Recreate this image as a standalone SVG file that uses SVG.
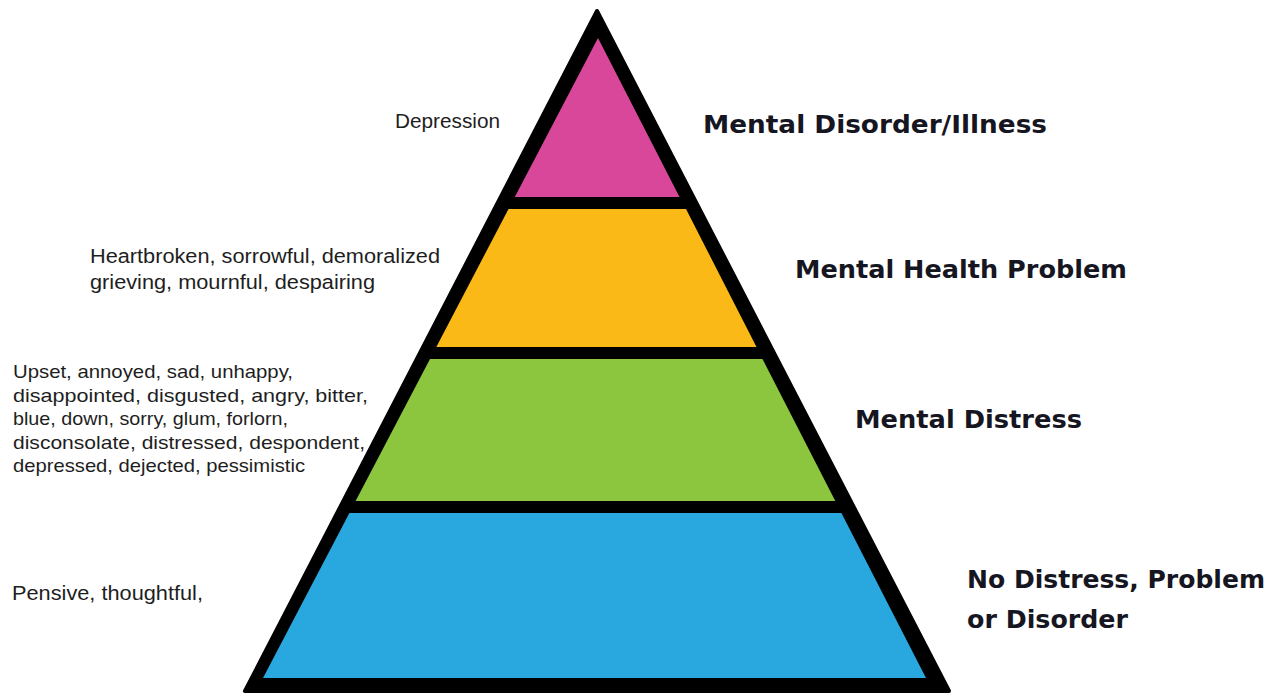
<svg xmlns="http://www.w3.org/2000/svg" width="1276" height="696" viewBox="0 0 1276 696">
  <style>
    .band { stroke: none; }
    .left { font-family: "Liberation Sans", Arial, sans-serif; font-size: 19px; fill: #1e1e1e; }
    .big { font-size: 20px; }
    .right { font-family: "DejaVu Sans", Verdana, sans-serif; font-weight: bold; font-size: 25px; fill: #161622; }
  </style>
  <rect width="1276" height="696" fill="#ffffff"/>
  <g id="pyramid">
    <polygon points="597,11 245,691 949,691" fill="#000000" stroke="#000000" stroke-width="4" stroke-linejoin="round"/>
  </g>
  <g id="level-disorder">
    <polygon class="band" points="598,38 514.8,197 679.5,197" fill="#D9479B"/>
    <text class="left big" x="395" y="128" textLength="105" lengthAdjust="spacingAndGlyphs">Depression</text>
    <text class="right" x="703" y="133" textLength="344" lengthAdjust="spacingAndGlyphs">Mental Disorder/Illness</text>
  </g>
  <g id="level-problem">
    <polygon class="band" points="508.5,209 686,209 756.5,347 436.3,347" fill="#FBB917"/>
    <text class="left big" x="90" y="263" textLength="350" lengthAdjust="spacingAndGlyphs">Heartbroken, sorrowful, demoralized</text>
    <text class="left big" x="90" y="289" textLength="285" lengthAdjust="spacingAndGlyphs">grieving, mournful, despairing</text>
    <text class="right" x="795" y="278" textLength="332" lengthAdjust="spacingAndGlyphs">Mental Health Problem</text>
  </g>
  <g id="level-distress">
    <polygon class="band" points="430,359 762.5,359 835.3,501 355.6,501" fill="#8CC63F"/>
    <text class="left" x="13" y="378" textLength="280" lengthAdjust="spacingAndGlyphs">Upset, annoyed, sad, unhappy,</text>
    <text class="left" x="13" y="401.5" textLength="355" lengthAdjust="spacingAndGlyphs">disappointed, disgusted, angry, bitter,</text>
    <text class="left" x="13" y="425" textLength="275" lengthAdjust="spacingAndGlyphs">blue, down, sorry, glum, forlorn,</text>
    <text class="left" x="13" y="448.5" textLength="352" lengthAdjust="spacingAndGlyphs">disconsolate, distressed, despondent,</text>
    <text class="left" x="13" y="472" textLength="292" lengthAdjust="spacingAndGlyphs">depressed, dejected, pessimistic</text>
    <text class="right" x="855" y="428" textLength="227" lengthAdjust="spacingAndGlyphs">Mental Distress</text>
  </g>
  <g id="level-none">
    <polygon class="band" points="349.4,513 841.4,513 926,678 263,678" fill="#29A8E0"/>
    <text class="left big" x="12" y="600" textLength="191" lengthAdjust="spacingAndGlyphs">Pensive, thoughtful,</text>
    <text class="right" x="967" y="588" textLength="298" lengthAdjust="spacingAndGlyphs">No Distress, Problem</text>
    <text class="right" x="967" y="628" textLength="161" lengthAdjust="spacingAndGlyphs">or Disorder</text>
  </g>
  <g id="connectors"></g>
</svg>
